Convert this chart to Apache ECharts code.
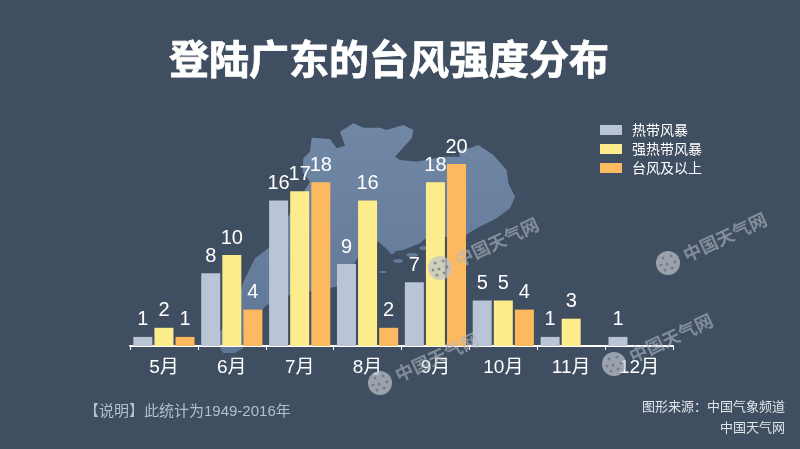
<!DOCTYPE html>
<html>
<head>
  <meta charset="UTF-8">
  <title>登陆广东的台风强度分布</title>
  <script src="https://cdn.jsdelivr.net/npm/echarts@6/dist/echarts.min.js"></script>
  <style>
    html, body { margin: 0; padding: 0; background: #3f4e60; }
    #chart { width: 800px; height: 449px; }
  </style>
</head>
<body>
<div id="chart"></div>
<script>
  // ============数据============
  const months = ['5月', '6月', '7月', '8月', '9月', '10月', '11月', '12月'];
  const tropicalStorm = [1, 8, 16, 9, 7, 5, 1, 1];
  const severeStorm = [2, 10, 17, 16, 18, 5, 3, null];
  const typhoon = [1, 4, 18, 2, 20, 4, null, null];

  const textFont = '"Liberation Sans", "Noto Sans CJK SC", sans-serif';
  const cjkFont = '"Noto Sans CJK SC", sans-serif';

  // 背景里的广东轮廓（装饰，放大图坐标，/3 后加偏移）
  const outline = [
    [330,50],[370,25],[400,38],[450,38],[470,45],[520,30],[550,45],[545,70],[495,125],[510,135],
    [560,140],[640,125],[690,125],[685,105],[720,100],[745,90],[790,120],[830,165],[835,205],
    [855,245],[840,280],[800,310],[740,340],[700,365],[640,365],[585,372],[570,385],[520,405],
    [480,410],[445,380],[400,400],[370,450],[320,515],[180,540],[110,570],[70,610],[40,660],[40,700],
    [15,714],[-20,714],[-30,700],[-30,650],
    [10,600],[40,500],[75,430],[115,400],[190,280],[240,200],[218,170],[220,130],[240,110],[245,68],
    [300,72],[320,100],[345,92]
  ].map(p => [230 + p[0] / 3, 115 + p[1] / 3]);

  // 海岸外的小岛
  const islets = [[398, 261, 5, 2], [412, 255, 6, 2], [392, 252, 3, 2], [424, 248, 5, 2], [383, 272, 4, 1]];

  // 水印：台标位置，文字相对台标偏移
  const marks = [[668, 263], [614, 364], [440, 268], [380, 383]];
  const logoDots = [[-5, -5], [3, -7], [7, -1], [-7, 2], [-1, 1], [4, 5], [-3, 7]];

  function watermark(p) {
    const dots = logoDots.map(d => ({
      type: 'circle', z: 10, silent: true,
      shape: {cx: p[0] + d[0], cy: p[1] + d[1], r: 1.5},
      style: {fill: 'rgba(90,100,114,0.6)'}
    }));
    return [
      {
        type: 'circle', z: 10, silent: true,
        shape: {cx: p[0], cy: p[1], r: 12},
        style: {fill: 'rgba(190,196,204,0.72)'}
      },
      ...dots,
      {
        type: 'text', z: 10, silent: true,
        x: p[0] + 57, y: p[1] - 26, rotation: 25 * Math.PI / 180,
        style: {
          text: '中国天气网', fill: 'rgba(176,184,194,0.6)',
          font: 'bold 18px ' + cjkFont, align: 'center', verticalAlign: 'middle'
        }
      }
    ];
  }

  function barSeries(name, data, color) {
    return {
      name: name,
      type: 'bar',
      data: data,
      barWidth: 19,
      barGap: '11%',
      itemStyle: {color: color},
      label: {
        show: true, position: 'top', distance: 7,
        color: '#ffffff', fontFamily: textFont, fontSize: 20
      }
    };
  }

  let chart = echarts.init(document.getElementById('chart'), null, {renderer: 'canvas'});

  chart.setOption({
    animation: false,
    backgroundColor: '#3f4e60',
    title: {
      text: '登陆广东的台风强度分布',
      left: 384, top: 34, textAlign: 'center',
      textStyle: {
        color: '#ffffff', fontFamily: cjkFont, fontSize: 40, fontWeight: 'bold',
        textBorderColor: '#ffffff', textBorderWidth: 0.8
      }
    },
    legend: {
      orient: 'vertical', left: 600, top: 123, padding: 0,
      itemWidth: 22, itemHeight: 10, itemGap: 5, icon: 'rect',
      selectedMode: false,
      textStyle: {color: '#ffffff', fontFamily: cjkFont, fontSize: 14, padding: [0, 0, 0, 5]}
    },
    grid: {left: 130, right: 127, top: 164, bottom: 103},
    xAxis: {
      type: 'category',
      data: months,
      axisLine: {lineStyle: {color: '#ffffff', width: 2}},
      axisTick: {show: true, length: 4, lineStyle: {color: '#ffffff', width: 1}},
      axisLabel: {color: '#ffffff', fontFamily: textFont, fontSize: 19, margin: 12}
    },
    yAxis: {type: 'value', min: 0, max: 20, show: false},
    series: [
      barSeries('热带风暴', tropicalStorm, '#b9c4d6'),
      barSeries('强热带风暴', severeStorm, '#fdec8c'),
      barSeries('台风及以上', typhoon, '#fcb95f')
    ],
    graphic: [
      {
        type: 'polygon', z: -1, silent: true,
        shape: {points: outline},
        style: {
          fill: new echarts.graphic.LinearGradient(0, 0, 0, 1, [
            {offset: 0, color: '#7088a6'},
            {offset: 1, color: '#5f7794'}
          ])
        }
      },
      ...islets.map(d => ({
        type: 'ellipse', z: -1, silent: true,
        shape: {cx: d[0], cy: d[1], rx: d[2], ry: d[3]},
        style: {fill: '#64799a'}
      })),
      ...marks.flatMap(watermark),
      {
        type: 'text', left: 84, top: 404, silent: true,
        style: {text: '【说明】此统计为1949-2016年', fill: '#b4bfcc', font: '15px ' + textFont}
      },
      {
        type: 'text', right: 15, top: 400, silent: true,
        style: {text: '图形来源：中国气象频道', fill: '#e2e6ea', font: '13px ' + cjkFont}
      },
      {
        type: 'text', right: 15, top: 421, silent: true,
        style: {text: '中国天气网', fill: '#e2e6ea', font: '13px ' + cjkFont}
      }
    ]
  });
</script>
</body>
</html>
